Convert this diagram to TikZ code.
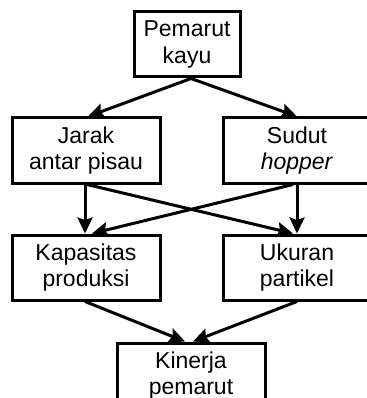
\documentclass[tikz,border=0pt]{standalone}
\usepackage{fontspec}
\setmainfont{Liberation Sans}
\usetikzlibrary{arrows.meta,calc}
\begin{document}
\begin{tikzpicture}[x=1pt,y=-1pt,
  box/.style={draw,line width=3pt,inner sep=0pt,align=center,
    font=\fontsize{23}{26.5}\selectfont},
  arr/.style={line width=3pt,-{Stealth[length=16pt,width=15pt,inset=2.5pt]}}]
\useasboundingbox (0,0) rectangle (366,398);
\node[box,minimum width=106pt,minimum height=65pt] (top) at (187,44.5) {Pemarut\\kayu};
\node[box,minimum width=148pt,minimum height=65pt] (jarak) at (86,150.5) {Jarak\\antar pisau};
\node[box,minimum width=148pt,minimum height=65pt] (sudut) at (297,150.5) {Sudut\\\textit{hopper}};
\node[box,minimum width=148pt,minimum height=65pt] (kap) at (86,267.5) {Kapasitas\\produksi};
\node[box,minimum width=148pt,minimum height=65pt] (ukur) at (297,267.5) {Ukuran\\partikel};
\node[box,minimum width=148pt,minimum height=65pt] (kin) at (191,375.5) {Kinerja\\pemarut};
\draw[arr] ($(top.south)+(4,0)$) -- ($(jarak.north)+(2,0)$);
\draw[arr] ($(top.south)+(4,0)$) -- (sudut.north);
\draw[arr] ($(jarak.south)+(-1,0)$) -- ($(kap.north)+(-1,0)$);
\draw[arr] ($(jarak.south)+(1,0)$) -- ($(ukur.north)+(-4,0)$);
\draw[arr] (sudut.south) -- (ukur.north);
\draw[arr] ($(sudut.south)+(-4,0)$) -- ($(kap.north)+(6,0)$);
\draw[arr] ($(kap.south)+(-1,0)$) -- ($(kin.north)+(-6,0)$);
\draw[arr] (ukur.south) -- ($(kin.north)+(2,0)$);
\end{tikzpicture}
\end{document}
